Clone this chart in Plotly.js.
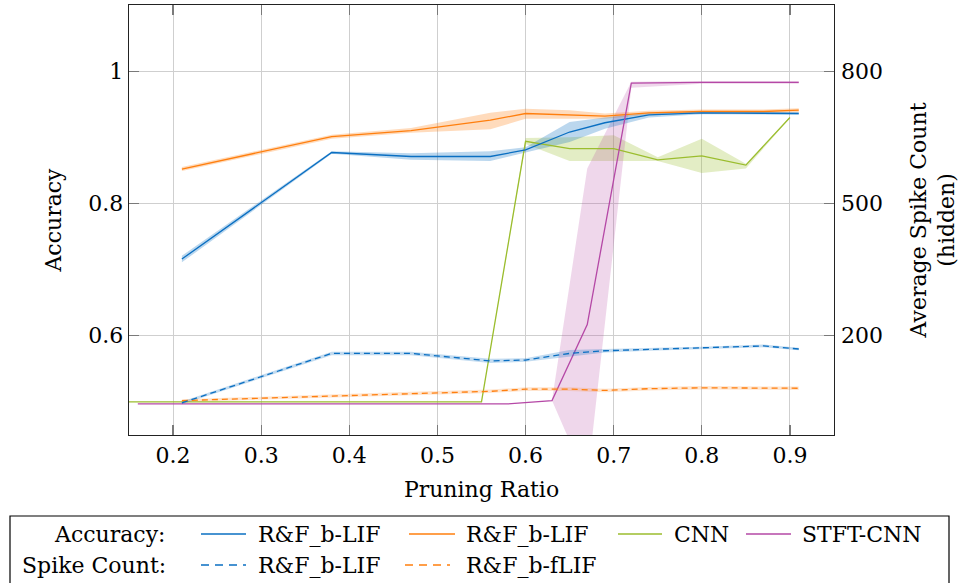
<!DOCTYPE html>
<html><head><meta charset="utf-8">
<script src="https://cdn.plot.ly/plotly-3.0.1.min.js"></script>
<style>html,body{margin:0;padding:0;background:#fff;} #chart{width:960px;height:583px;}</style>
</head><body><div id="chart"></div>
<script>
// ---- data ----
const rfX = [0.21, 0.38, 0.47, 0.56, 0.60, 0.65, 0.69, 0.74, 0.80, 0.87, 0.91];
const blueAcc     = [0.716, 0.877, 0.871, 0.871, 0.881, 0.908, 0.922, 0.934, 0.937, 0.937, 0.936];
const blueAccLo   = [0.711, 0.875, 0.866, 0.864, 0.877, 0.893, 0.913, 0.930, 0.935, 0.935, 0.934];
const blueAccHi   = [0.721, 0.879, 0.876, 0.879, 0.885, 0.923, 0.930, 0.937, 0.939, 0.939, 0.938];
const orangeAcc   = [0.852, 0.901, 0.910, 0.926, 0.936, 0.934, 0.932, 0.937, 0.939, 0.939, 0.941];
const orangeAccLo = [0.849, 0.898, 0.907, 0.912, 0.928, 0.928, 0.928, 0.934, 0.936, 0.936, 0.938];
const orangeAccHi = [0.855, 0.904, 0.914, 0.937, 0.943, 0.941, 0.936, 0.940, 0.942, 0.942, 0.944];
const blueSpike     = [48, 160, 160, 143, 145, 160, 166, 169, 172, 177, 170];
const blueSpikeLo   = [45, 156, 156, 138, 141, 152, 162, 166, 169, 174, 167];
const blueSpikeHi   = [51, 164, 164, 148, 149, 168, 170, 172, 175, 180, 173];
const orangeSpike   = [53, 64, 69, 74, 79, 79, 76, 80, 82, 81, 81];
const orangeSpikeLo = [50, 60, 65, 70, 75, 75, 72, 76, 78, 77, 77];
const orangeSpikeHi = [56, 68, 73, 78, 83, 83, 80, 84, 86, 85, 85];

const cnnX   = [0.15, 0.20, 0.25, 0.30, 0.35, 0.40, 0.45, 0.50, 0.55, 0.60, 0.65, 0.70, 0.75, 0.80, 0.85, 0.90];
const cnnAcc = [0.5, 0.5, 0.5, 0.5, 0.5, 0.5, 0.5, 0.5, 0.5, 0.894, 0.883, 0.883, 0.866, 0.872, 0.858, 0.930];
const cnnLo  = [0.5, 0.5, 0.5, 0.5, 0.5, 0.5, 0.5, 0.5, 0.5, 0.890, 0.864, 0.864, 0.864, 0.846, 0.853, 0.929];
const cnnHi  = [0.5, 0.5, 0.5, 0.5, 0.5, 0.5, 0.5, 0.5, 0.5, 0.899, 0.900, 0.903, 0.870, 0.898, 0.860, 0.931];

const stftX   = [0.16, 0.58, 0.63, 0.67, 0.72, 0.80, 0.91];
const stftAcc = [0.497, 0.497, 0.502, 0.617, 0.982, 0.983, 0.983];
const stftLo  = [0.497, 0.497, 0.502, 0.380, 0.975, 0.981, 0.981];
const stftHi  = [0.497, 0.497, 0.502, 0.853, 0.984, 0.985, 0.985];

const xTicks = [0.2, 0.3, 0.4, 0.5, 0.6, 0.7, 0.8, 0.9];
const xTickText = ['0.2','0.3','0.4','0.5','0.6','0.7','0.8','0.9'];
const yTicks = [0.6, 0.8, 1.0];
const yTickText = ['0.6','0.8','1'];
const y2Ticks = [200, 500, 800];
const y2TickText = ['200','500','800'];

// ---- styling ----
const FONT = "DejaVu Serif, serif";
const FS = 22;
const C = {
  blue: '#0a6fc2', orange: '#ff7f0e', green: '#9bbd2e', purple: '#b548a6'
};
function rgba(hex, a){
  const n = parseInt(hex.slice(1),16);
  return `rgba(${(n>>16)&255},${(n>>8)&255},${n&255},${a})`;
}
function band(x, lo, hi, color, alpha, yaxis){
  return [
    {x:x, y:lo, type:'scatter', mode:'lines', line:{width:0, color:color}, yaxis:yaxis, showlegend:false, hoverinfo:'skip'},
    {x:x, y:hi, type:'scatter', mode:'lines', line:{width:0, color:color}, fill:'tonexty', fillcolor:rgba(color,alpha), yaxis:yaxis, showlegend:false, hoverinfo:'skip'}
  ];
}
function line(x, y, color, yaxis, dash, name){
  return {x:x, y:y, type:'scatter', mode:'lines', name:name, line:{color:color, width:1.3, dash:dash||'solid'}, yaxis:yaxis, showlegend:false};
}

const traces = [].concat(
  band(cnnX, cnnLo, cnnHi, C.green, 0.28, 'y'),
  band(stftX, stftLo, stftHi, C.purple, 0.22, 'y'),
  band(rfX, orangeAccLo, orangeAccHi, C.orange, 0.28, 'y'),
  band(rfX, blueAccLo, blueAccHi, C.blue, 0.28, 'y'),
  [
    line(cnnX, cnnAcc, C.green, 'y', null, 'CNN'),
    line(rfX, orangeAcc, C.orange, 'y', null, 'R&F_b-LIF'),
    line(rfX, blueAcc, C.blue, 'y', null, 'R&F_b-LIF'),
    line(stftX, stftAcc, C.purple, 'y', null, 'STFT-CNN')
  ],
  band(rfX, orangeSpikeLo, orangeSpikeHi, C.orange, 0.2, 'y2'),
  band(rfX, blueSpikeLo, blueSpikeHi, C.blue, 0.25, 'y2'),
  [
    line(rfX, orangeSpike, C.orange, 'y2', '6px,4px', 'R&F_b-fLIF'),
    line(rfX, blueSpike, C.blue, 'y2', '6px,4px', 'R&F_b-LIF')
  ]
);

// pixel -> paper helpers (plot area 129..834 x 5..435)
const PL = 129, PR = 834, PT = 5, PB = 435;
const px = v => (v - PL) / (PR - PL);
const py = v => (PB - v) / (PB - PT);

const shapes = [];
const annotations = [];
// legend box
shapes.push({type:'rect', xref:'paper', yref:'paper', x0:px(10), x1:px(949), y0:py(516), y1:py(600),
  line:{color:'#000', width:1.2}, fillcolor:'rgba(0,0,0,0)'});

const legendRows = [
  {label:'Accuracy:', y:534, items:[
    {x0:201, x1:246, tx:256, text:'R&F_b-LIF', color:C.blue, dash:'solid'},
    {x0:409, x1:455, tx:464, text:'R&F_b-LIF', color:C.orange, dash:'solid'},
    {x0:618, x1:662, tx:672, text:'CNN', color:C.green, dash:'solid'},
    {x0:746, x1:791, tx:800, text:'STFT-CNN', color:C.purple, dash:'solid'}
  ]},
  {label:'Spike Count:', y:565, items:[
    {x0:201, x1:246, tx:256, text:'R&F_b-LIF', color:C.blue, dash:'8px,6px'},
    {x0:405, x1:450, tx:464, text:'R&F_b-fLIF', color:C.orange, dash:'8px,6px'}
  ]}
];
legendRows.forEach(r => {
  annotations.push({xref:'paper', yref:'paper', x:px(168), y:py(r.y), xanchor:'right', yanchor:'middle',
    text:r.label, showarrow:false, font:{family:FONT, size:FS, color:'#000'}});
  r.items.forEach(it => {
    shapes.push({type:'line', xref:'paper', yref:'paper', x0:px(it.x0), x1:px(it.x1), y0:py(r.y), y1:py(r.y),
      line:{color:it.color, width:1.3, dash:it.dash}});
    annotations.push({xref:'paper', yref:'paper', x:px(it.tx), y:py(r.y), xanchor:'left', yanchor:'middle',
      text:it.text, showarrow:false, font:{family:FONT, size:FS, color:'#000'}});
  });
});

const axisCommon = {
  ticks:'inside', ticklen:10, tickwidth:1.3, tickcolor:'#7a7a7a',
  showline:true, linecolor:'#222', linewidth:1.3,
  gridcolor:'#cfcfcf', gridwidth:1, zeroline:false,
  tickfont:{family:FONT, size:FS, color:'#000'}
};

const layout = {
  width:960, height:583,
  margin:{l:PL, r:960-PR, t:PT, b:583-PB, pad:0},
  paper_bgcolor:'#fff', plot_bgcolor:'#fff',
  showlegend:false,
  font:{family:FONT, color:'#000'},
  xaxis: Object.assign({}, axisCommon, {
    range:[0.15, 0.95], tickvals:xTicks, ticktext:xTickText, mirror:'ticks', showgrid:true,
    title:{text:'Pruning Ratio', font:{family:FONT, size:FS, color:'#000'}, standoff:15}
  }),
  yaxis: Object.assign({}, axisCommon, {
    range:[0.45, 1.1], tickvals:yTicks, ticktext:yTickText, mirror:true, showgrid:true,
    title:{text:'Accuracy', font:{family:FONT, size:FS, color:'#000'}, standoff:20}
  }),
  yaxis2: Object.assign({}, axisCommon, {
    overlaying:'y', side:'right', range:[-25, 950], tickvals:y2Ticks, ticktext:y2TickText,
    showgrid:false, showline:false, ticklabelstandoff:6,
    title:{text:'Average Spike Count<br>(hidden)', font:{family:FONT, size:FS, color:'#000'}, standoff:28}
  }),
  shapes:shapes,
  annotations:annotations
};

Plotly.newPlot('chart', traces, layout, {staticPlot:true, displayModeBar:false});
</script></body></html>
